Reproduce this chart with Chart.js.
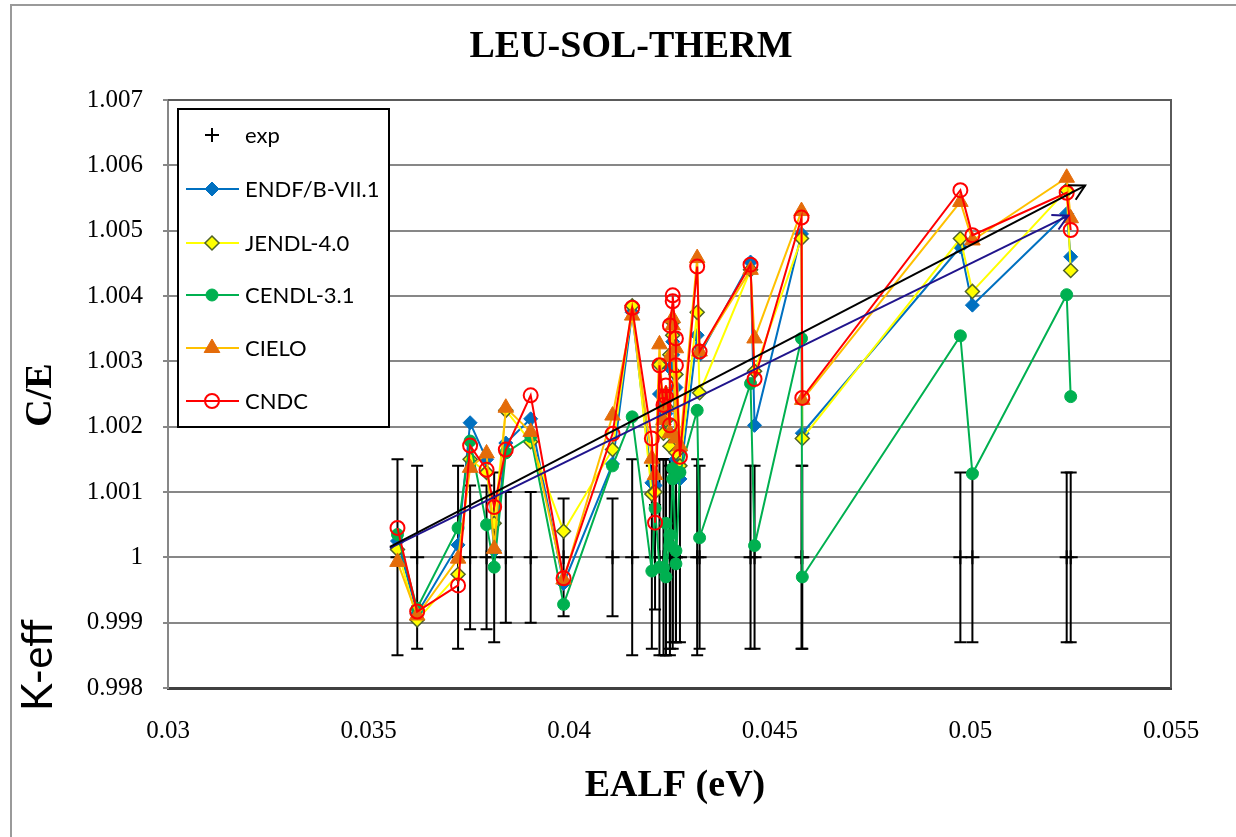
<!DOCTYPE html>
<html>
<head>
<meta charset="utf-8">
<script src="https://cdn.jsdelivr.net/npm/chart.js@4.4.1/dist/chart.umd.min.js"></script>
<style>
  html, body { margin: 0; padding: 0; background: #fff; }
  canvas { display: block; }
</style>
</head>
<body>
<canvas id="chart" width="1236" height="837"></canvas>
<script>
// EALF (eV) of each benchmark
const ealf = [0.03572, 0.03621, 0.03723, 0.03753, 0.03794, 0.03813, 0.03842, 0.03904, 0.03986, 0.04108, 0.04157,
  0.04206, 0.04214, 0.04225, 0.04235, 0.04241, 0.04241, 0.04251, 0.04251, 0.04258, 0.04258, 0.04266, 0.04266, 0.04276,
  0.04319, 0.04325, 0.04452, 0.04462, 0.04579, 0.04581, 0.04975, 0.05005, 0.05240, 0.05250];

// experiment (normalised) and its uncertainty
const expVals = [1, 1, 1, 1, 1, 1, 1, 1, 1, 1, 1,
  1, 1, 1, 1, 1, 1, 1, 1, 1, 1, 1, 1, 1,
  1, 1, 1, 1, 1, 1, 1, 1, 1, 1];
const expErr = [0.0015, 0.0014, 0.0014, 0.0011, 0.0011, 0.0013, 0.0010, 0.0010, 0.0009, 0.0009, 0.0015,
  0.0014, 0.0008, 0.0015, 0.0015, 0.0015, 0.0015, 0.0015, 0.0014, 0.0014, 0.0013, 0.0013, 0.0013, 0.0013,
  0.0015, 0.0014, 0.0014, 0.0014, 0.0014, 0.0014, 0.0013, 0.0013, 0.0013, 0.0013];

// C/E per library
const endf = [1.00025, 0.99914, 1.00019, 1.00206, 1.0015, 1.0001, 1.00175, 1.00212, 0.9996, 1.00143, 1.00375,
  1.00114, 1.0011, 1.0025, 1.0021, 1.0022, 1.0024, 1.0019, 1.0029, 1.0033, 1.0031, 1.0015, 1.0026, 1.0012,
  1.0034, 1.0031, 1.00452, 1.00202, 1.00495, 1.0019, 1.00475, 1.00386, 1.00526, 1.0046];
const jendl = [1.00012, 0.99904, 0.99974, 1.0015, 1.0013, 1.00052, 1.00225, 1.00177, 1.0004, 1.00165, 1.00385,
  1.00097, 1.0010, 1.00295, 1.0019, 1.0021, 1.0023, 1.0017, 1.0031, 1.0034, 1.0036, 1.0016, 1.0028, 1.0014,
  1.00375, 1.00252, 1.0044, 1.00285, 1.00488, 1.00182, 1.00488, 1.00407, 1.00562, 1.00439];
const cendl = [1.00035, 0.99922, 1.00045, 1.00178, 1.0005, 0.99985, 1.0016, 1.00185, 0.99928, 1.0014, 1.00215,
  0.99979, 1.00075, 0.99985, 0.99984, 1.00052, 0.9997, 1.00034, 1.00018, 1.0012, 1.00136, 1.0001, 0.9999, 1.0013,
  1.00225, 1.0003, 1.00266, 1.00018, 1.00335, 0.9997, 1.00339, 1.00128, 1.00402, 1.00246];
const cielo = [0.99993, 0.99911, 0.99998, 1.00137, 1.00159, 1.00013, 1.00229, 1.00192, 0.99966, 1.00217, 1.0037,
  1.00151, 1.00126, 1.00326, 1.0021, 1.0023, 1.0025, 1.0019, 1.00307, 1.00355, 1.00366, 1.00182, 1.0032, 1.0017,
  1.00458, 1.00315, 1.0044, 1.00335, 1.0053, 1.00241, 1.00544, 1.00485, 1.00581, 1.00519];
const cndc = [1.00045, 0.99917, 0.99957, 1.00171, 1.00134, 1.00077, 1.00165, 1.00248, 0.99968, 1.00189, 1.00382,
  1.00182, 1.00053, 1.00294, 1.00233, 1.00246, 1.00263, 1.00202, 1.00355, 1.00392, 1.00401, 1.00335, 1.00294, 1.00154,
  1.00445, 1.00315, 1.00448, 1.00273, 1.0052, 1.00244, 1.00562, 1.00493, 1.00558, 1.00501];

// hand-drawn trend arrows
const trendBlackX = [0.03553, 0.05286];
const trendBlackY = [1.00016, 1.00569];
const trendNavyX = [0.03553, 0.05244];
const trendNavyY = [1.00014, 1.00523];

const xTickLabels = ['0.03', '0.035', '0.04', '0.045', '0.05', '0.055'];
const yTickLabels = ['0.998', '0.999', '1', '1.001', '1.002', '1.003', '1.004', '1.005', '1.006', '1.007'];

const pts = (xs, ys) => xs.map((x, i) => ({ x: x, y: ys[i] }));

const serif = '"Liberation Serif", "Times New Roman", serif';
const sans = 'Lato, "Liberation Sans", sans-serif';

// error bars under the markers
const errorBars = {
  id: 'errorBars',
  beforeDatasetsDraw(chart) {
    const ctx = chart.ctx;
    const y = chart.scales.y;
    const meta = chart.getDatasetMeta(0);
    ctx.save();
    ctx.strokeStyle = '#000';
    ctx.lineWidth = 2;
    meta.data.forEach((p, i) => {
      const top = y.getPixelForValue(expVals[i] + expErr[i]);
      const bot = y.getPixelForValue(expVals[i] - expErr[i]);
      ctx.beginPath();
      ctx.moveTo(p.x, top); ctx.lineTo(p.x, bot);
      ctx.moveTo(p.x - 6, top); ctx.lineTo(p.x + 6, top);
      ctx.moveTo(p.x - 6, bot); ctx.lineTo(p.x + 6, bot);
      ctx.stroke();
    });
    ctx.restore();
  }
};

// open arrow heads at the end of the trend lines
const arrowHeads = {
  id: 'arrowHeads',
  afterDatasetsDraw(chart) {
    const ctx = chart.ctx;
    chart.data.datasets.forEach((ds, i) => {
      if (!ds.arrow) return;
      const d = chart.getDatasetMeta(i).data;
      const a = d[d.length - 2], b = d[d.length - 1];
      const ang = Math.atan2(b.y - a.y, b.x - a.x);
      ctx.save();
      ctx.strokeStyle = ds.borderColor;
      ctx.lineWidth = 2;
      ctx.beginPath();
      ctx.moveTo(b.x - 17 * Math.cos(ang - 0.5), b.y - 17 * Math.sin(ang - 0.5));
      ctx.lineTo(b.x, b.y);
      ctx.lineTo(b.x - 17 * Math.cos(ang + 0.5), b.y - 17 * Math.sin(ang + 0.5));
      ctx.stroke();
      ctx.restore();
    });
  }
};

function legendMarker(ctx, ds, x, y) {
  ctx.save();
  ctx.fillStyle = ds.pointBackgroundColor;
  ctx.strokeStyle = ds.pointBorderColor;
  ctx.lineWidth = ds.pointBorderWidth;
  const r = ds.pointRadius;
  ctx.beginPath();
  if (ds.pointStyle === 'cross') {
    ctx.moveTo(x - r, y); ctx.lineTo(x + r, y);
    ctx.moveTo(x, y - r); ctx.lineTo(x, y + r);
    ctx.stroke();
  } else if (ds.pointStyle === 'rectRot') {
    ctx.moveTo(x, y - r); ctx.lineTo(x + r, y); ctx.lineTo(x, y + r); ctx.lineTo(x - r, y); ctx.closePath();
    ctx.fill(); ctx.stroke();
  } else if (ds.pointStyle === 'triangle') {
    ctx.moveTo(x, y - r); ctx.lineTo(x + r * 0.87, y + r * 0.5); ctx.lineTo(x - r * 0.87, y + r * 0.5); ctx.closePath();
    ctx.fill(); ctx.stroke();
  } else {
    ctx.arc(x, y, r, 0, Math.PI * 2);
    ctx.fill(); ctx.stroke();
  }
  ctx.restore();
}

// titles, frame, plot border and the boxed legend
const decorations = {
  id: 'decorations',
  afterDraw(chart) {
    const ctx = chart.ctx;
    const a = chart.chartArea;
    ctx.save();
    ctx.strokeStyle = '#5a5a5a';
    ctx.lineWidth = 2;
    ctx.beginPath();
    ctx.moveTo(a.left, a.top); ctx.lineTo(a.right, a.top); ctx.lineTo(a.right, a.bottom);
    ctx.stroke();

    ctx.strokeStyle = '#9a9a9a';
    ctx.beginPath();
    ctx.moveTo(11, 837); ctx.lineTo(11, 5); ctx.lineTo(1236, 5);
    ctx.stroke();

    ctx.fillStyle = '#000';
    ctx.textAlign = 'center';
    ctx.textBaseline = 'middle';
    ctx.font = 'bold 38px ' + serif;
    ctx.fillText('LEU-SOL-THERM', 631, 47);
    ctx.fillText('EALF (eV)', 675, 786);

    ctx.save();
    ctx.translate(41, 395);
    ctx.rotate(-Math.PI / 2);
    ctx.fillText('C/E', 0, 0);
    ctx.restore();
    ctx.save();
    ctx.translate(38, 665);
    ctx.rotate(-Math.PI / 2);
    ctx.font = '42px ' + sans;
    ctx.fillText('K-eff', 0, 0);
    ctx.restore();

    // legend box
    ctx.fillStyle = '#fff';
    ctx.fillRect(178, 109, 211, 318);
    ctx.strokeStyle = '#000';
    ctx.lineWidth = 2;
    ctx.strokeRect(178, 109, 211, 318);
    const rows = [135, 189, 243, 295, 348, 401];
    const order = [0, 1, 2, 3, 4, 5];
    ctx.font = '22px ' + sans;
    ctx.textAlign = 'left';
    order.forEach((di, k) => {
      const ds = chart.data.datasets[di];
      const yy = rows[k];
      if (ds.showLine !== false) {
        ctx.strokeStyle = ds.borderColor;
        ctx.lineWidth = 2;
        ctx.beginPath(); ctx.moveTo(186, yy); ctx.lineTo(239, yy); ctx.stroke();
      }
      legendMarker(ctx, ds, 212, yy);
      ctx.fillStyle = '#000';
      ctx.fillText(ds.label, 245, yy + 1);
    });
    ctx.restore();
  }
};

new Chart(document.getElementById('chart'), {
  type: 'line',
  data: {
    datasets: [
      { label: 'exp', data: pts(ealf, expVals), showLine: false, order: 6,
        pointStyle: 'cross', pointRadius: 7, pointBorderWidth: 2,
        pointBorderColor: '#000', pointBackgroundColor: '#000', borderColor: '#000' },
      { label: 'ENDF/B-VII.1', data: pts(ealf, endf), order: 5, borderColor: '#0070C0', borderWidth: 2,
        pointStyle: 'rectRot', pointRadius: 7, pointBorderWidth: 1,
        pointBackgroundColor: '#0070C0', pointBorderColor: '#0070C0' },
      { label: 'JENDL-4.0', data: pts(ealf, jendl), order: 4, borderColor: '#FFFF00', borderWidth: 2,
        pointStyle: 'rectRot', pointRadius: 7, pointBorderWidth: 1.5,
        pointBackgroundColor: '#FFFF00', pointBorderColor: '#4F6228' },
      { label: 'CENDL-3.1', data: pts(ealf, cendl), order: 3, borderColor: '#00B050', borderWidth: 2,
        pointStyle: 'circle', pointRadius: 6, pointBorderWidth: 1,
        pointBackgroundColor: '#00B050', pointBorderColor: '#00B050' },
      { label: 'CIELO', data: pts(ealf, cielo), order: 2, borderColor: '#FFC000', borderWidth: 2,
        pointStyle: 'triangle', pointRadius: 9, pointBorderWidth: 1,
        pointBackgroundColor: '#E46C0A', pointBorderColor: '#E46C0A' },
      { label: 'CNDC', data: pts(ealf, cndc), order: 1, borderColor: '#FF0000', borderWidth: 2,
        pointStyle: 'circle', pointRadius: 7, pointBorderWidth: 2,
        pointBackgroundColor: 'rgba(255,255,255,0)', pointBorderColor: '#FF0000' },
      { label: 'trend1', data: pts(trendBlackX, trendBlackY), order: 0, arrow: true,
        borderColor: '#000', borderWidth: 2, pointRadius: 0 },
      { label: 'trend2', data: pts(trendNavyX, trendNavyY), order: 0, arrow: true,
        borderColor: '#20148C', borderWidth: 2, pointRadius: 0 }
    ]
  },
  options: {
    responsive: false,
    animation: false,
    devicePixelRatio: 1,
    events: [],
    layout: { padding: { top: 100, right: 65, left: 0, bottom: 0 } },
    plugins: { legend: { display: false }, tooltip: { enabled: false }, title: { display: false } },
    scales: {
      x: {
        type: 'linear', min: 0.03, max: 0.055,
        afterFit: (s) => { s.height = 149; },
        grid: { display: false, drawTicks: false },
        border: { display: true, color: '#404040', width: 3 },
        ticks: {
          stepSize: 0.005, padding: 28, color: '#000', maxRotation: 0,
          font: { family: serif, size: 25 },
          callback: (v) => xTickLabels[Math.round((v - 0.03) / 0.005)]
        }
      },
      y: {
        type: 'linear', min: 0.998, max: 1.007,
        afterFit: (s) => { s.width = 168; },
        grid: { color: '#878787', lineWidth: 2, drawTicks: true, tickLength: 5 },
        border: { display: true, color: '#878787', width: 2 },
        ticks: {
          stepSize: 0.001, padding: 20, color: '#000',
          font: { family: serif, size: 25 },
          callback: (v) => yTickLabels[Math.round((v - 0.998) / 0.001)]
        }
      }
    }
  },
  plugins: [errorBars, arrowHeads, decorations]
});
</script>
</body>
</html>
